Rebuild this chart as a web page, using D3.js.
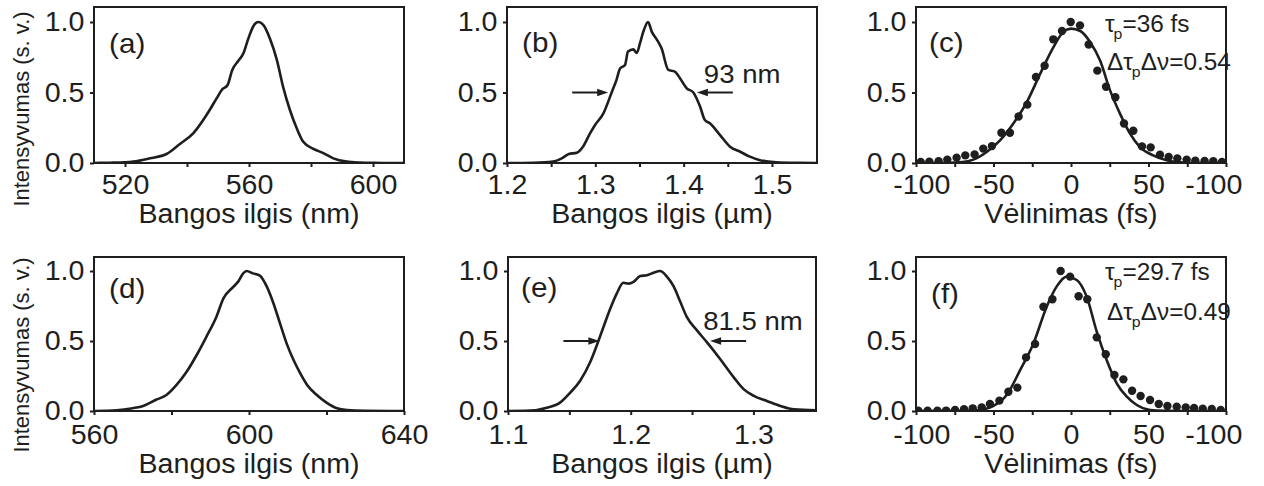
<!DOCTYPE html>
<html>
<head>
<meta charset="utf-8">
<script src="https://cdn.jsdelivr.net/npm/d3@7"></script>
<style>
  body { margin: 0; background: #fff; }
  svg text { font-family: Arial, "Liberation Sans", Helvetica, sans-serif; fill: #1e1e1e; }
</style>
</head>
<body>
<svg id="fig" width="1264" height="486"></svg>
<script>
// ---- spectra (normalised intensity vs wavelength) ----
const waveA = [510, 515, 520, 522.7, 528, 533.4, 537.7, 542, 546.3, 549.6, 551.2, 553.1, 554.6, 556.5, 558.2, 559.8, 561.4, 563, 564.6, 566.8, 569, 571, 573.2, 575.4, 577.5, 580.8, 584, 587.2, 591.5, 596, 600, 605, 610];
const intA  = [0, 0.002, 0.005, 0.01, 0.033, 0.064, 0.135, 0.21, 0.34, 0.46, 0.518, 0.553, 0.66, 0.723, 0.778, 0.884, 0.97, 1.0, 0.98, 0.88, 0.73, 0.54, 0.376, 0.246, 0.15, 0.10, 0.07, 0.033, 0.01, 0.003, 0.001, 0, 0];

const waveB = [1.2, 1.23, 1.252, 1.262, 1.27, 1.279, 1.286, 1.294, 1.2997, 1.309, 1.3185, 1.324, 1.328, 1.3336, 1.337, 1.343, 1.347, 1.3506, 1.355, 1.3597, 1.364, 1.3695, 1.375, 1.3827, 1.39, 1.396, 1.4035, 1.411, 1.4186, 1.424, 1.43, 1.441, 1.4525, 1.464, 1.475, 1.4865, 1.505, 1.53, 1.55];
const intB  = [0, 0.002, 0.01, 0.033, 0.064, 0.073, 0.116, 0.21, 0.27, 0.35, 0.5, 0.59, 0.67, 0.695, 0.79, 0.806, 0.78, 0.85, 0.943, 1.0, 0.93, 0.877, 0.813, 0.66, 0.648, 0.60, 0.53, 0.5, 0.40, 0.305, 0.28, 0.2, 0.116, 0.08, 0.045, 0.02, 0.005, 0.001, 0];

const waveD = [560, 565.8, 570, 572.7, 576, 578.7, 581.3, 583.9, 586.5, 589, 591.6, 593.4, 596, 597.2, 598.5, 599.4, 601, 602.8, 604.6, 606.3, 608, 609.7, 611.5, 613.2, 615, 617.5, 620, 622.7, 625.3, 630, 640];
const intD  = [0, 0.005, 0.02, 0.036, 0.08, 0.114, 0.186, 0.28, 0.40, 0.53, 0.674, 0.805, 0.888, 0.924, 0.983, 1.0, 0.983, 0.967, 0.888, 0.77, 0.626, 0.483, 0.364, 0.27, 0.186, 0.114, 0.06, 0.019, 0.007, 0.002, 0];

const waveE = [1.1, 1.118, 1.1316, 1.1424, 1.1506, 1.1588, 1.167, 1.1724, 1.1778, 1.1833, 1.1887, 1.194, 1.1982, 1.2023, 1.2078, 1.2132, 1.2186, 1.224, 1.2295, 1.235, 1.2404, 1.2458, 1.254, 1.2622, 1.273, 1.284, 1.292, 1.3003, 1.311, 1.322, 1.333, 1.351];
const intE  = [0, 0.003, 0.024, 0.06, 0.13, 0.216, 0.35, 0.47, 0.6, 0.73, 0.84, 0.916, 0.91, 0.923, 0.964, 0.97, 0.988, 1.0, 0.96, 0.89, 0.78, 0.67, 0.576, 0.49, 0.37, 0.24, 0.156, 0.108, 0.072, 0.036, 0.012, 0.005];

// ---- autocorrelation traces (measured points + fitted curve) ----
const delayC = [-97.0, -91.4, -85.4, -79.8, -73.8, -68.2, -62.2, -56.6, -51.0, -44.9, -39.4, -33.8, -28.2, -22.6, -17.0, -11.4, -5.8, -0.2, 5.8, 11.4, 17.0, 22.6, 28.6, 34.2, 40.2, 45.8, 51.4, 57.4, 63.0, 68.6, 74.6, 80.2, 86.2, 91.8, 97.4];
const acfC   = [0.007, 0.009, 0.012, 0.024, 0.038, 0.054, 0.061, 0.102, 0.12, 0.215, 0.215, 0.33, 0.414, 0.61, 0.69, 0.877, 0.936, 1.0, 0.976, 0.84, 0.655, 0.541, 0.466, 0.28, 0.229, 0.118, 0.111, 0.059, 0.043, 0.033, 0.024, 0.017, 0.014, 0.012, 0.007];
const fitDelayC = [-100, -80, -70, -63, -54.4, -45.8, -37.2, -28.6, -20, -11.4, -4.9, 0, 6, 12.3, 18.7, 25.2, 31.6, 38, 44.5, 53, 61.7, 70.3, 80, 100];
const fitC      = [0, 0.001, 0.006, 0.024, 0.078, 0.16, 0.28, 0.43, 0.63, 0.82, 0.93, 0.953, 0.936, 0.858, 0.728, 0.515, 0.35, 0.21, 0.113, 0.054, 0.019, 0.005, 0.001, 0];

const delayF = [-98.5, -92.5, -86.2, -80.6, -74.8, -69.0, -63.4, -57.6, -52.3, -46.2, -40.4, -34.6, -29.0, -23.2, -17.8, -12.0, -6.7, -0.6, 4.9, 10.5, 16.6, 22.4, 28.0, 33.8, 39.4, 44.9, 51.0, 56.6, 62.2, 68.2, 74.0, 79.4, 85.0, 90.8, 96.6];
const acfF   = [0.002, 0.002, 0.002, 0.003, 0.007, 0.012, 0.019, 0.026, 0.05, 0.074, 0.138, 0.167, 0.383, 0.479, 0.745, 0.798, 1.0, 0.96, 0.82, 0.798, 0.526, 0.405, 0.257, 0.226, 0.145, 0.107, 0.079, 0.05, 0.036, 0.031, 0.026, 0.021, 0.017, 0.014, 0.007];
const fitDelayF = [-100, -70, -58.7, -50, -41.5, -32.9, -24.3, -15.7, -9.2, -2.8, 3.7, 10.1, 16.6, 23, 29.5, 36, 42.4, 51, 60, 100];
const fitF      = [0, 0.001, 0.007, 0.036, 0.114, 0.29, 0.48, 0.745, 0.89, 0.96, 0.936, 0.817, 0.567, 0.364, 0.198, 0.102, 0.043, 0.007, 0.001, 0];

// ---- ticks and labels ----
const ticksY  = [0, 0.5, 1.0];
const labelsY = ["0.0", "0.5", "1.0"];
const ticksA  = [520, 540, 560, 580, 600];
const labelsA = ["520", "", "560", "", "600"];
const ticksB  = [1.2, 1.25, 1.3, 1.35, 1.4, 1.45, 1.5];
const labelsB = ["1.2", "", "1.3", "", "1.4", "", "1.5"];
const ticksC  = [-100, -75, -50, -25, 0, 25, 50, 75, 100];
const labelsC = ["-100", "", "-50", "", "0", "", "50", "", "-100"];
const ticksD  = [560, 580, 600, 620, 640];
const labelsD = ["560", "", "600", "", "640"];
const ticksE  = [1.1, 1.15, 1.2, 1.25, 1.3];
const labelsE = ["1.1", "", "1.2", "", "1.3"];

// spectral FWHM markers and pulse parameters
const fwhmB = [1.3185, 1.411], fwhmTextB = "93 nm";
const fwhmE = [1.1757, 1.2635], fwhmTextE = "81.5 nm";
const pulseC = "=36 fs", tbpC = "=0.54";
const pulseF = "=29.7 fs", tbpF = "=0.49";

const titleY = "Intensyvumas (s. v.)";
const titleNm = "Bangos ilgis (nm)";
const titleUm = "Bangos ilgis (\u00b5m)";
const titleT = "V\u0117linimas (fs)";

// ---------------------------------------------------------------
const INK = "#1e1e1e";
const SX = 1.06;          // slight horizontal widening of the lettering
const svg = d3.select("#fig");

function txt(g, x, y, str, size, anchor) {
  return g.append("text")
    .attr("transform", `translate(${x},${y}) scale(${SX},1)`)
    .attr("text-anchor", anchor || "start")
    .style("font-size", size + "px")
    .text(str);
}

function arrow(g, x0, x1, y) {
  // shaft from x0 to tip x1
  const dir = Math.sign(x1 - x0);
  g.append("line").attr("x1", x0).attr("x2", x1 - dir * 6).attr("y1", y).attr("y2", y)
    .attr("stroke", INK).attr("stroke-width", 2);
  g.append("path")
    .attr("d", `M${x1},${y} L${x1 - dir * 11},${y - 3.8} L${x1 - dir * 11},${y + 3.8} Z`)
    .attr("fill", INK);
}

function panel(p) {
  const g = svg.append("g");
  const x = d3.scaleLinear().domain(p.xDomain).range([p.left, p.right]);
  const y = d3.scaleLinear().domain([0, p.yMax]).range([p.bottom, p.top]);

  const clipId = "clip-" + p.name;
  g.append("clipPath").attr("id", clipId).append("rect")
    .attr("x", p.left).attr("y", p.top - 2)
    .attr("width", p.right - p.left).attr("height", p.bottom - p.top + 2);

  // bottom axis
  const xl = d3.scaleOrdinal().domain(p.xTicks).range(p.xLabels);
  const ax = g.append("g").attr("transform", `translate(0,${p.bottom})`)
    .call(d3.axisBottom(x).tickValues(p.xTicks).tickSize(4).tickPadding(p.xPad)
      .tickFormat(d => xl(d)));
  ax.select(".domain").remove();
  ax.selectAll(".tick line").attr("stroke", INK).attr("stroke-width", 2);
  ax.selectAll(".tick text").style("font-size", "27px").attr("transform", `scale(${SX},1)`);
  // end labels of the delay axes sit slightly inside the frame
  if (p.endShift) {
    ax.selectAll(".tick text").filter(d => d === p.xDomain[0]).attr("x", p.endShift[0]);
    ax.selectAll(".tick text").filter(d => d === p.xDomain[1]).attr("x", p.endShift[1]);
  }

  // left axis
  const yl = d3.scaleOrdinal().domain(ticksY).range(labelsY);
  const ay = g.append("g").attr("transform", `translate(${p.left},0)`)
    .call(d3.axisLeft(y).tickValues(ticksY).tickSize(4).tickPadding(5)
      .tickFormat(d => yl(d)));
  ay.select(".domain").remove();
  ay.selectAll(".tick line").attr("stroke", INK).attr("stroke-width", 2);
  ay.selectAll(".tick text").style("font-size", "27px").attr("transform", `scale(${SX},1)`);

  // frame
  g.append("rect").attr("x", p.left).attr("y", p.top)
    .attr("width", p.right - p.left).attr("height", p.bottom - p.top)
    .attr("fill", "none").attr("stroke", INK).attr("stroke-width", 2);

  const plot = g.append("g").attr("clip-path", `url(#${clipId})`);
  const line = d3.line().x(d => x(d[0])).y(d => y(d[1]));

  if (p.curveX) {
    line.curve(d3.curveMonotoneX);
    plot.append("path").datum(d3.zip(p.curveX, p.curveY))
      .attr("d", line).attr("fill", "none").attr("stroke", INK)
      .attr("stroke-width", 2.6).attr("stroke-linejoin", "round");
  }
  if (p.dotsX) {
    plot.selectAll("circle").data(d3.zip(p.dotsX, p.dotsY)).join("circle")
      .attr("cx", d => x(d[0])).attr("cy", d => y(d[1])).attr("r", 4.2).attr("fill", INK);
  }

  // panel letter
  txt(g, p.tagPos[0], p.tagPos[1], p.tag, 28);

  // x title
  txt(g, (p.left + p.right) / 2, p.bottom + p.titleOff, p.xTitle, 27, "middle");

  // FWHM arrows
  if (p.fwhm) {
    const yh = y(0.5);
    const tl = x(p.fwhm[0]) - p.gap, tr = x(p.fwhm[1]) + p.gap;
    arrow(g, tl - 36, tl, yh);
    arrow(g, tr + 36, tr, yh);
    txt(g, tr + p.fwhmDx, yh + p.fwhmDy, p.fwhmText, 26);
  }

  // pulse duration and time-bandwidth product
  if (p.pulse) {
    const ax0 = p.right - 121;
    const t1 = g.append("text").attr("transform", `translate(${ax0},${p.top + p.annY[0]}) scale(${SX},1)`)
      .style("font-size", "23px");
    t1.append("tspan").text("\u03c4");
    t1.append("tspan").attr("dy", 7).attr("dx", -1).style("font-size", "15px").text("p");
    t1.append("tspan").attr("dy", -7).text(p.pulse);

    const t2 = g.append("text").attr("transform", `translate(${ax0 + 2},${p.top + p.annY[1]}) scale(${SX},1)`)
      .style("font-size", "23px");
    t2.append("tspan").text("\u0394\u03c4");
    t2.append("tspan").attr("dy", 7).attr("dx", -1).style("font-size", "15px").text("p");
    t2.append("tspan").attr("dy", -7).text("\u0394\u03bd" + p.tbp);
  }
}

const row1 = { top: 7, bottom: 163, yMax: 156 / 141, xPad: 8, titleOff: 60 };
const row2 = { top: 257, bottom: 411, yMax: 1.1, xPad: 10, titleOff: 62 };

const panels = [
  Object.assign({}, row1, { name: "a", left: 94, right: 404, xDomain: [510, 610], xTicks: ticksA, xLabels: labelsA,
    xTitle: titleNm, tag: "(a)", tagPos: [109, 53], curveX: waveA, curveY: intA }),
  Object.assign({}, row1, { name: "b", left: 507, right: 817, xDomain: [1.2, 1.551], xTicks: ticksB, xLabels: labelsB,
    xTitle: titleUm, tag: "(b)", tagPos: [522, 52], curveX: waveB, curveY: intB,
    fwhm: fwhmB, fwhmText: fwhmTextB, gap: 3.5, fwhmDx: 7, fwhmDy: -10 }),
  Object.assign({}, row1, { name: "c", left: 916, right: 1226, xDomain: [-100, 100], xTicks: ticksC, xLabels: labelsC,
    xTitle: titleT, tag: "(c)", tagPos: [929, 52], curveX: fitDelayC, curveY: fitC, dotsX: delayC, dotsY: acfC,
    pulse: pulseC, tbp: tbpC, annY: [25, 63], endShift: [5, -12] }),
  Object.assign({}, row2, { name: "d", left: 94, right: 404, xDomain: [560, 640], xTicks: ticksD, xLabels: labelsD,
    xTitle: titleNm, tag: "(d)", tagPos: [109, 298], curveX: waveD, curveY: intD }),
  Object.assign({}, row2, { name: "e", left: 508, right: 816, xDomain: [1.1, 1.351], xTicks: ticksE, xLabels: labelsE,
    xTitle: titleUm, tag: "(e)", tagPos: [521, 297], curveX: waveE, curveY: intE,
    fwhm: fwhmE, fwhmText: fwhmTextE, gap: 1.5, fwhmDx: -7, fwhmDy: -11 }),
  Object.assign({}, row2, { name: "f", left: 916, right: 1226, xDomain: [-100, 100], xTicks: ticksC, xLabels: labelsC,
    xTitle: titleT, tag: "(f)", tagPos: [931, 303], curveX: fitDelayF, curveY: fitF, dotsX: delayF, dotsY: acfF,
    pulse: pulseF, tbp: tbpF, annY: [23, 63], endShift: [5, -12] })
];

panels.forEach(panel);

// shared y titles
[109, 355].forEach(cy => {
  svg.append("text")
    .attr("transform", `translate(29,${cy}) rotate(-90)`)
    .attr("text-anchor", "middle")
    .style("font-size", "22px")
    .text(titleY);
});
</script>
</body>
</html>
